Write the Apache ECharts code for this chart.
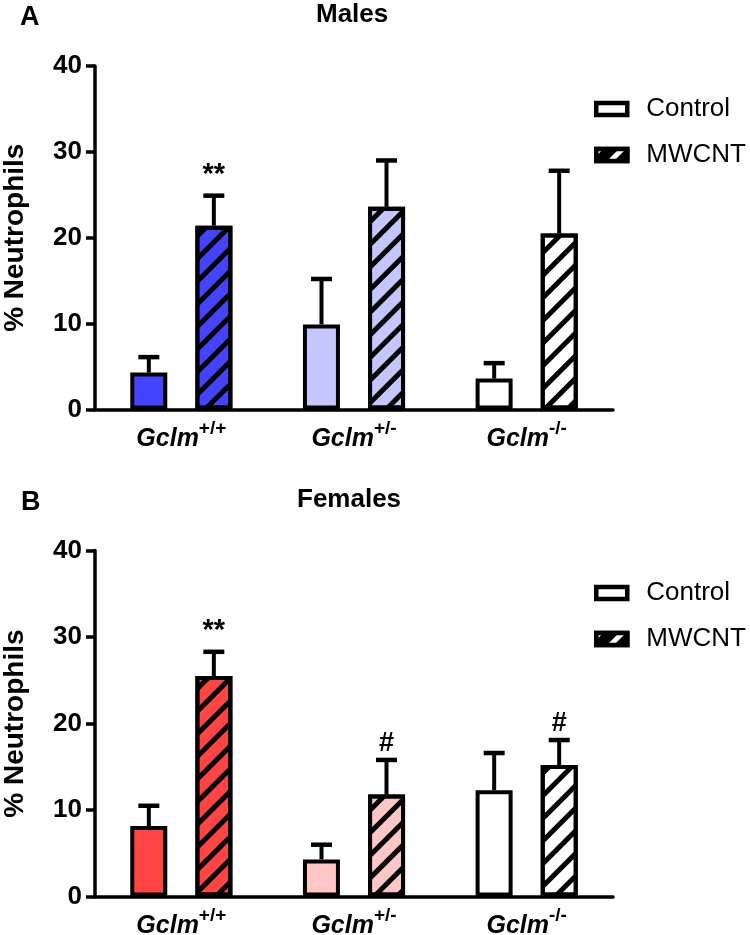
<!DOCTYPE html>
<html>
<head>
<meta charset="utf-8">
<script src="https://cdn.jsdelivr.net/npm/echarts@6/dist/echarts.min.js"></script>
<style>
  html, body { margin: 0; padding: 0; background: #fff; }
  #chart { width: 750px; height: 935px; }
</style>
</head>
<body>
<div id="chart"></div>
<script>
// genotypes on the x axis (shown as Gclm with superscript)
var genotypes = ["+/+", "+/-", "-/-"];
var yTicks = [0, 10, 20, 30, 40];

// Males (panel A)
var maleControl = [4.3, 9.9, 3.6];
var maleControlErr = [1.8, 5.3, 1.8];
var maleMwcnt = [21.4, 23.6, 20.5];
var maleMwcntErr = [3.5, 5.4, 7.3];
var maleMarks = ["**", "", ""];

// Females (panel B)
var femaleControl = [8.15, 4.3, 12.3];
var femaleControlErr = [2.35, 1.7, 4.3];
var femaleMwcnt = [25.5, 11.8, 15.2];
var femaleMwcntErr = [2.8, 4.0, 2.9];
var femaleMarks = ["**", "#", "#"];

var maleColors = ["#4444ff", "#c6c6ff", "#ffffff"];
var femaleColors = ["#ff4444", "#ffc6c6", "#ffffff"];

var FONT = "Liberation Sans";
var BAR_OFFSET = 32.5;

function hatch(color) {
  return {
    symbol: "rect",
    symbolSize: 1,
    color: color,
    dashArrayX: [1, 0],
    dashArrayY: [5, 11],
    rotation: -Math.PI / 4
  };
}

function barData(values, colors, hatched) {
  return values.map(function (v, i) {
    var st = { color: colors[i], borderColor: "#000", borderWidth: 4 };
    if (hatched) st.decal = hatch("#000");
    return { value: v, itemStyle: st };
  });
}

function errSeries(idx, name, values, errs, marks, offset) {
  return {
    type: "custom",
    name: name + " err",
    xAxisIndex: idx,
    yAxisIndex: idx,
    z: 5,
    silent: true,
    data: values.map(function (v, i) { return [i, v, errs[i]]; }),
    renderItem: function (params, api) {
      var base = api.coord([api.value(0), api.value(1)]);
      var top = api.coord([api.value(0), api.value(1) + api.value(2)]);
      var x = base[0] + offset;
      var mark = marks ? marks[params.dataIndex] : "";
      var children = [
        { type: "line", shape: { x1: x, y1: base[1], x2: x, y2: top[1] }, style: { stroke: "#000", lineWidth: 4 } },
        { type: "line", shape: { x1: x - 10.5, y1: top[1], x2: x + 10.5, y2: top[1] }, style: { stroke: "#000", lineWidth: 4.5 } }
      ];
      if (mark) {
        var star = mark.indexOf("*") >= 0;
        children.push({
          type: "text",
          style: {
            x: x, y: top[1] - (star ? 6 : 3), text: mark, fill: "#000",
            font: "bold " + (star ? 29 : 27) + "px '" + FONT + "'",
            textAlign: "center", textVerticalAlign: "bottom"
          }
        });
      }
      return { type: "group", children: children };
    }
  };
}

var grids = [
  { left: 95, width: 518, top: 66, height: 343.5, outerBoundsMode: "none" },
  { left: 95, width: 518, top: 550.6, height: 346, outerBoundsMode: "none" }
];

function xAxis(idx) {
  return {
    type: "category",
    gridIndex: idx,
    data: genotypes,
    axisLine: { lineStyle: { color: "#000", width: 3.5 } },
    axisTick: { show: false },
    axisLabel: {
      margin: 10,
      formatter: function (v) { return "{g|Gclm}{s|" + v + "}"; },
      rich: {
        g: { fontFamily: FONT, fontSize: 25, fontWeight: "bold", fontStyle: "italic", color: "#000", lineHeight: 32, verticalAlign: "bottom" },
        s: { fontFamily: FONT, fontSize: 19, fontWeight: "bold", color: "#000", lineHeight: 32, verticalAlign: "top" }
      }
    }
  };
}

function yAxis(idx) {
  return {
    type: "value",
    gridIndex: idx,
    min: 0,
    max: yTicks[yTicks.length - 1],
    interval: 10,
    name: "% Neutrophils",
    nameLocation: "middle",
    nameGap: 66,
    nameTextStyle: { fontFamily: FONT, fontSize: 28, fontWeight: "bold", color: "#000" },
    splitLine: { show: false },
    axisLine: { show: true, lineStyle: { color: "#000", width: 3.5 } },
    axisTick: { show: true, length: 9, lineStyle: { color: "#000", width: 3.5 } },
    axisLabel: { margin: 13, fontFamily: FONT, fontSize: 26, fontWeight: "bold", color: "#000" }
  };
}

function legend(top) {
  return {
    orient: "vertical",
    left: 589,
    top: top,
    itemWidth: 31,
    itemHeight: 12,
    itemGap: 20,
    icon: "rect",
    selectedMode: false,
    textStyle: { fontFamily: FONT, fontSize: 26, color: "#000", padding: [0, 0, 0, 14] },
    data: [
      { name: "Control", itemStyle: { color: "#fff", borderColor: "#000", borderWidth: 4.5 } },
      { name: "MWCNT", itemStyle: { color: "#000", borderColor: "#000", borderWidth: 4.5, decal: hatch("#fff") } }
    ]
  };
}

function titleStyle(size) {
  return { fontFamily: FONT, fontSize: size, fontWeight: "bold", color: "#000" };
}

var option = {
  animation: false,
  backgroundColor: "#fff",
  title: [
    { text: "A", left: 20, top: 4, padding: 0, textStyle: titleStyle(27) },
    { text: "Males", left: 316, top: 2, padding: 0, textStyle: titleStyle(26) },
    { text: "B", left: 21, top: 489, padding: 0, textStyle: titleStyle(27) },
    { text: "Females", left: 297, top: 487, padding: 0, textStyle: titleStyle(26) }
  ],
  legend: [legend(91), legend(575)],
  grid: grids,
  xAxis: [xAxis(0), xAxis(1)],
  yAxis: [yAxis(0), yAxis(1)],
  series: [
    { type: "bar", name: "Control", xAxisIndex: 0, yAxisIndex: 0, barWidth: 37, barGap: "76%",
      data: barData(maleControl, maleColors, false) },
    { type: "bar", name: "MWCNT", xAxisIndex: 0, yAxisIndex: 0, barWidth: 37, barGap: "76%",
      data: barData(maleMwcnt, maleColors, true) },
    { type: "bar", name: "Control", xAxisIndex: 1, yAxisIndex: 1, barWidth: 37, barGap: "76%",
      data: barData(femaleControl, femaleColors, false) },
    { type: "bar", name: "MWCNT", xAxisIndex: 1, yAxisIndex: 1, barWidth: 37, barGap: "76%",
      data: barData(femaleMwcnt, femaleColors, true) },
    errSeries(0, "Control", maleControl, maleControlErr, null, -BAR_OFFSET),
    errSeries(0, "MWCNT", maleMwcnt, maleMwcntErr, maleMarks, BAR_OFFSET),
    errSeries(1, "Control", femaleControl, femaleControlErr, null, -BAR_OFFSET),
    errSeries(1, "MWCNT", femaleMwcnt, femaleMwcntErr, femaleMarks, BAR_OFFSET)
  ]
};

var myChart = echarts.init(document.getElementById("chart"));
myChart.setOption(option);
</script>
</body>
</html>
